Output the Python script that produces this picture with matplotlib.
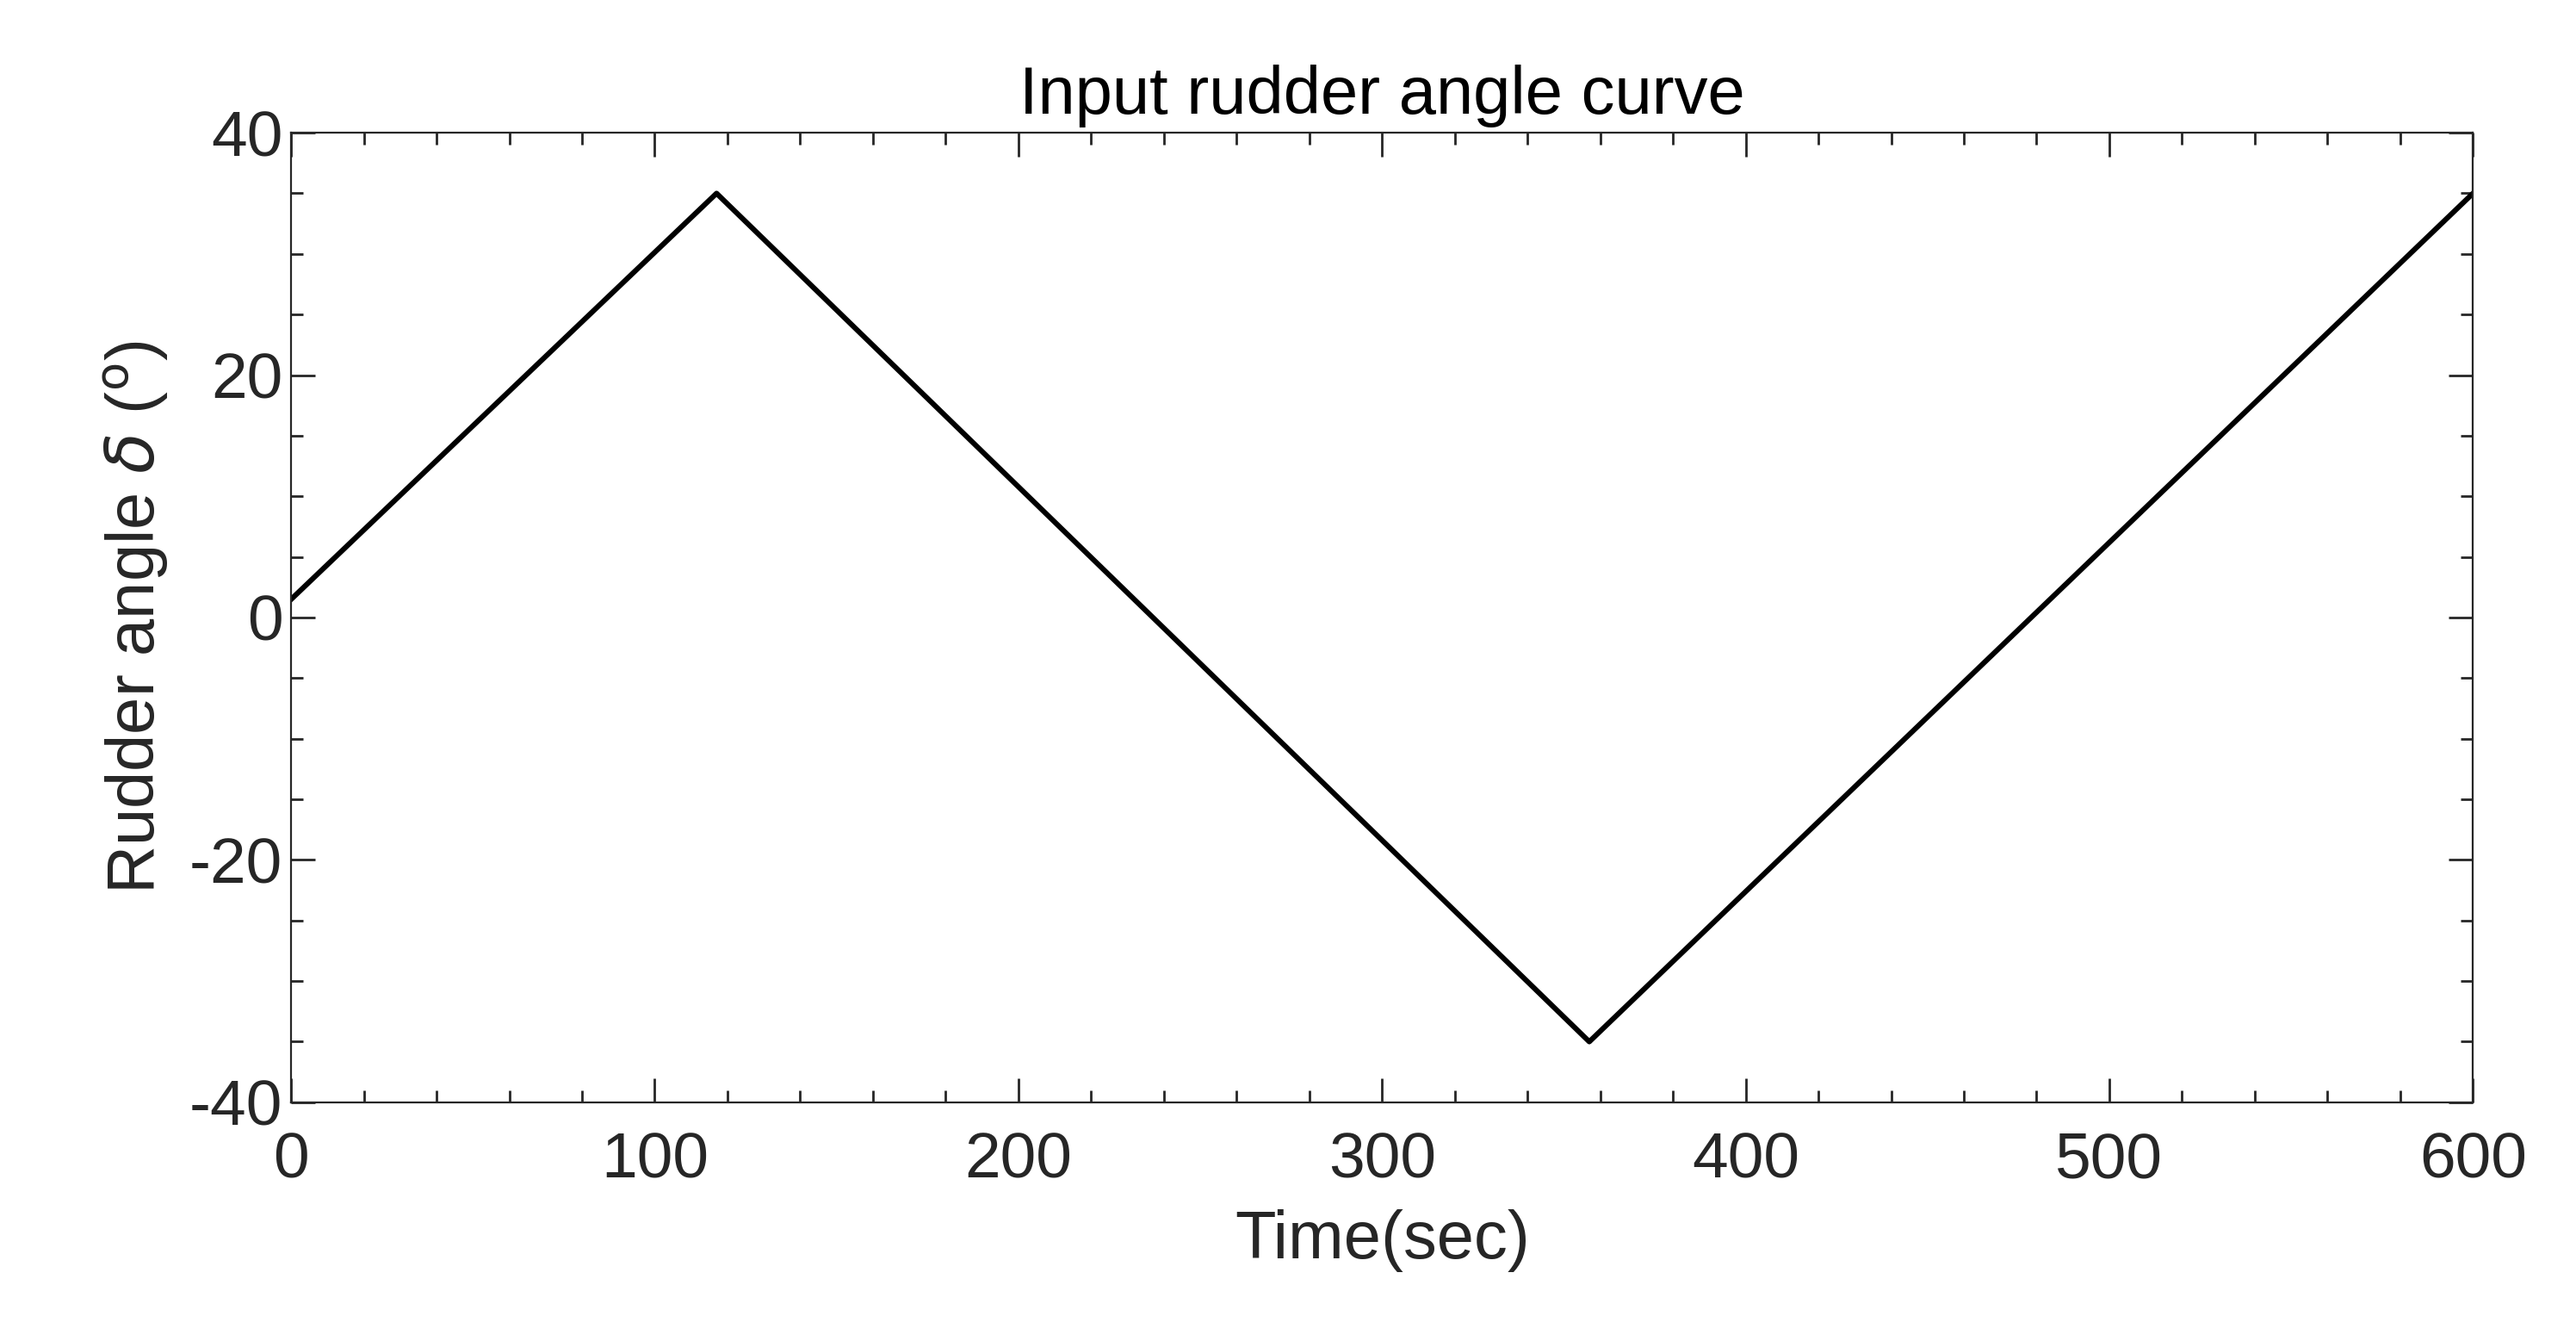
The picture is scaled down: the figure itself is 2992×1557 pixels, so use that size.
import matplotlib
matplotlib.use("Agg")
import matplotlib.pyplot as plt
from matplotlib.ticker import MultipleLocator

time_s = [0, 117, 357, 600]
rudder_deg = [1.5, 35, -35, 35]

plt.rcParams['font.family'] = ['Liberation Sans', 'DejaVu Sans']
plt.rcParams['axes.unicode_minus'] = False
fig = plt.figure(figsize=(14.96, 7.785), dpi=200)
ax = fig.add_axes([0.113, 0.178, 0.847, 0.723])
ax.plot(time_s, rudder_deg, color='black', lw=2.2)
ax.set_xlim(0, 600)
ax.set_ylim(-40, 40)
ax.set_xticks(range(0, 601, 100))
ax.set_yticks(range(-40, 41, 20))
ax.xaxis.set_minor_locator(MultipleLocator(20))
ax.yaxis.set_minor_locator(MultipleLocator(5))
ax.tick_params(which='both', direction='in', top=True, right=True, colors='#262626', labelsize=27, width=1)
ax.tick_params(which='major', length=10)
ax.tick_params(which='minor', length=5)
ax.tick_params(axis='x', pad=12)
for s in ax.spines.values():
    s.set_color('#262626')
ax.set_title('Input rudder angle curve', fontsize=28, color='black', pad=8)
ax.set_xlabel('Time(sec)', fontsize=28, color='#262626', labelpad=8)
ax.set_ylabel(r'Rudder angle $\delta$ ($^{\mathrm{o}}$)', fontsize=28, color='#262626', labelpad=8)
fig.savefig('out.png', dpi=200)
